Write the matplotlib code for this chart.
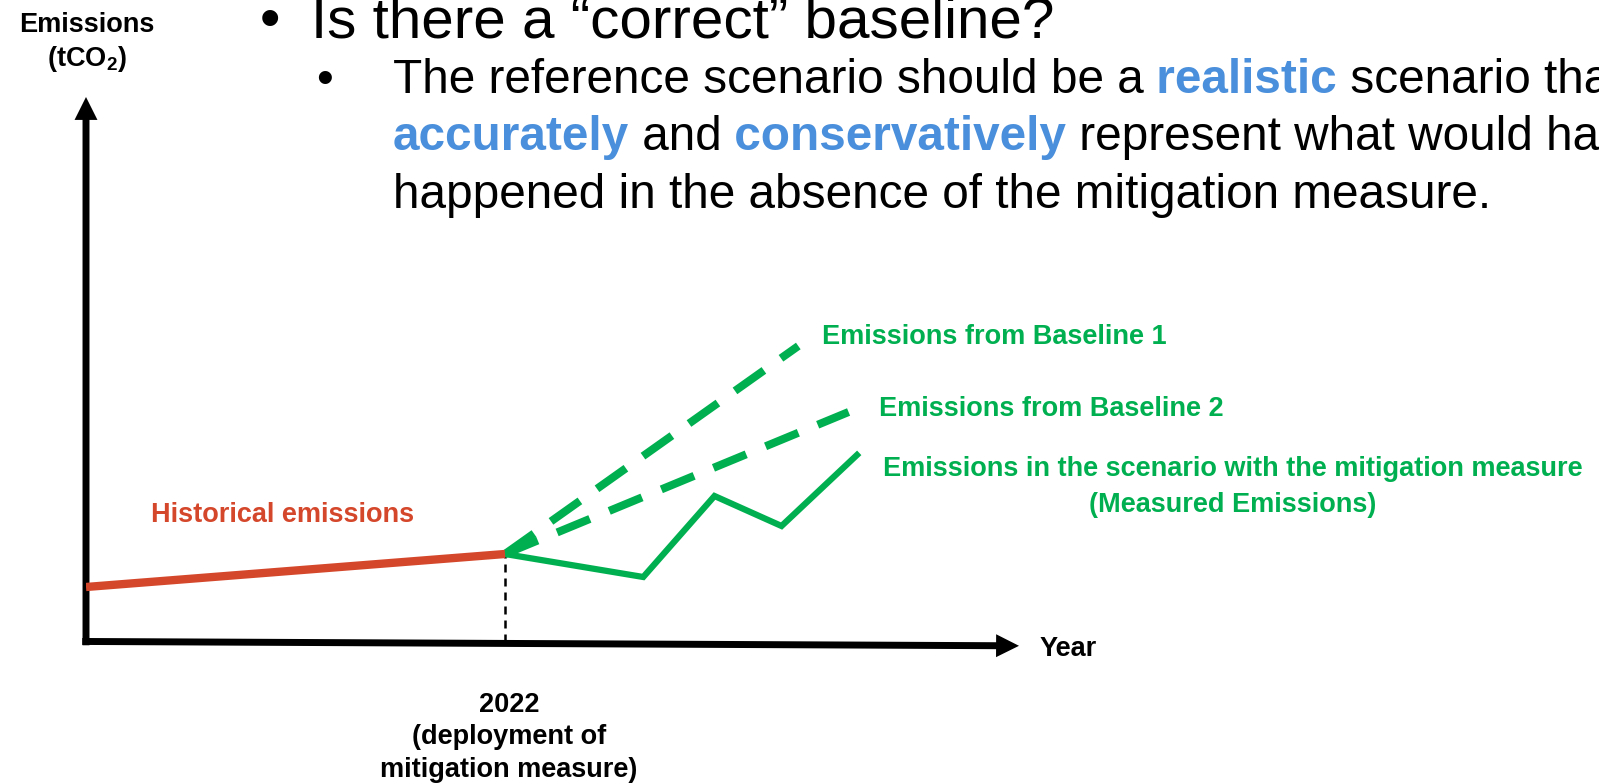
import matplotlib.pyplot as plt

plt.rcParams['font.family'] = ['Liberation Sans', 'DejaVu Sans']
plt.rcParams['mathtext.fontset'] = 'custom'
plt.rcParams['mathtext.rm'] = 'Liberation Sans'
plt.rcParams['mathtext.bf'] = 'Liberation Sans:bold'

GREEN = '#00B050'
RED = '#D5472B'
BLUE = '#4A8FDB'

# historical emissions up to the deployment year
hist_years = [2012, 2022]
hist_emis = [5.5, 8.8]

# two candidate baselines after deployment
base1_years = [2022, 2029.0]
base1_emis = [8.8, 29.6]
base2_years = [2022, 2030.2]
base2_emis = [8.8, 23.0]

# measured emissions with the mitigation measure
meas_years = [2022, 2025.3, 2027.0, 2028.6, 2030.4]
meas_emis = [8.8, 6.5, 14.6, 11.6, 18.7]

deploy_year = 2022

W, H = 1599, 783
fig = plt.figure(figsize=(W / 100, H / 100), dpi=100)

# overlay in pixel units for the slide text
txt = fig.add_axes([0, 0, 1, 1])
txt.set_xlim(0, W)
txt.set_ylim(H, 0)
txt.axis('off')

# chart area: origin at (86, 642) px, arrow tips at x=1019 and y=97
x0, x1, y0, y1 = 86, 1019, 642, 97
ax = fig.add_axes([x0 / W, (H - y0) / H, (x1 - x0) / W, (y0 - y1) / H])
px_per_year = 41.9
ax.set_xlim(2012, 2012 + (x1 - x0) / px_per_year)
ax.set_ylim(0, (y0 - y1) / 10)
ax.axis('off')

arrow = dict(arrowstyle='simple,head_length=1.65,head_width=1.65,tail_width=0.5',
             mutation_scale=10, fc='black', ec='none', lw=0, shrinkA=0, shrinkB=0)
ax.annotate('', xy=(0, 1), xytext=(0, -0.006), xycoords='axes fraction',
            arrowprops=arrow, annotation_clip=False)
ax.annotate('', xy=(1, -0.007), xytext=(-0.004, 0.001), xycoords='axes fraction',
            arrowprops=arrow, annotation_clip=False)

ax.plot([deploy_year, deploy_year], [0, hist_emis[-1]], color='black', lw=1.8,
        ls=(0, (3.2, 2.4)), zorder=2)
ax.plot(base1_years, base1_emis, color=GREEN, lw=5.8, ls=(0, (4.4, 2.6)),
        dash_capstyle='butt', zorder=3)
ax.plot(base2_years, base2_emis, color=GREEN, lw=5.8, ls=(0, (4.4, 2.6)),
        dash_capstyle='butt', zorder=3)
ax.plot(meas_years, meas_emis, color=GREEN, lw=4.5, solid_joinstyle='miter', zorder=3)
ax.plot(hist_years, hist_emis, color=RED, lw=6, solid_capstyle='butt', zorder=4)

lab = dict(fontsize=19.5, fontweight='bold', va='baseline')

# axis titles
txt.text(87, 32, 'Emissions', ha='center', **lab)
txt.text(87, 66, r'(tCO$_\mathbf{2}$)', ha='center', **lab)
txt.text(1040, 655.5, 'Year', ha='left', **lab)
for y, s in [(711.5, '2022'), (744, '(deployment of'), (777, 'mitigation measure)')]:
    txt.text(509, y, s, ha='center', **lab)

# series labels
txt.text(151, 521.5, 'Historical emissions', color=RED, ha='left', **lab)
txt.text(822, 343.5, 'Emissions from Baseline 1', color=GREEN, ha='left', **lab)
txt.text(879, 416, 'Emissions from Baseline 2', color=GREEN, ha='left', **lab)
txt.text(1233, 476, 'Emissions in the scenario with the mitigation measure',
         color=GREEN, ha='center', **lab)
txt.text(1233, 512, '(Measured Emissions)', color=GREEN, ha='center', **lab)

# slide heading
txt.text(270, 37, '\u2022', fontsize=42, ha='center', va='baseline')
txt.text(311, 37, 'Is there a \u201ccorrect\u201d baseline?', fontsize=42, va='baseline')
txt.text(324, 93, '\u2022', fontsize=34.4, ha='center', va='baseline')


def rich_line(x, y, parts, size=34.4):
    s, c, w = parts[0]
    t = txt.text(x, y, s, color=c, fontweight=w, fontsize=size, va='baseline')
    for s, c, w in parts[1:]:
        t = txt.annotate(s, xy=(1, 0), xycoords=t, va='bottom', color=c,
                         fontweight=w, fontsize=size, annotation_clip=False)
    return t


rich_line(392.6, 93, [('The reference scenario should be a', 'black', 'normal'),
                      (' realistic', BLUE, 'bold'),
                      (' scenario that', 'black', 'normal')])
rich_line(392.6, 150.5, [('accurately', BLUE, 'bold'),
                         (' and', 'black', 'normal'),
                         (' conservatively', BLUE, 'bold'),
                         (' represent what would have', 'black', 'normal')])
rich_line(392.6, 208, [('happened in the absence of the mitigation measure.', 'black', 'normal')])

fig.savefig('out.png', dpi=100)
